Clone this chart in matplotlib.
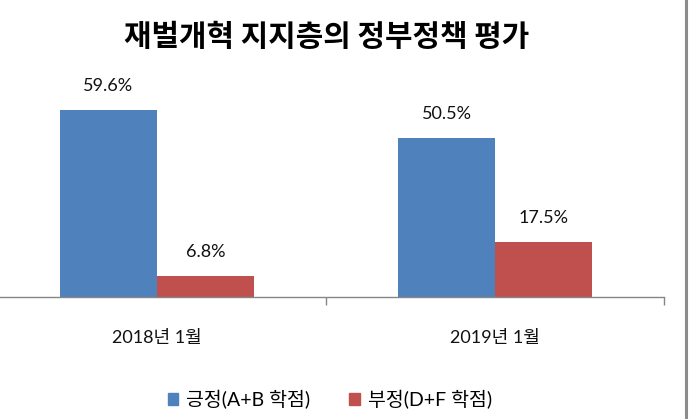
import matplotlib
matplotlib.use("Agg")
import matplotlib.pyplot as plt
from matplotlib.lines import Line2D
from matplotlib.patches import Patch
import numpy as np

title = "재벌개혁 지지층의 정부정책 평가"
categories = ["2018년 1월", "2019년 1월"]
series_names = ["긍정(A+B 학점)", "부정(D+F 학점)"]
positive = [59.6, 50.5]
negative = [6.8, 17.5]
colors = ["#4F81BD", "#C0504D"]

fam = ['Lato', 'Noto Sans CJK KR', 'DejaVu Sans']
plt.rcParams['font.family'] = fam

fig = plt.figure(figsize=(6.97, 4.19), dpi=100)
W, H = 697, 419
ax = fig.add_axes([-12 / W, (H - 297) / H, 676 / W, (297 - 77) / H])

x = np.arange(len(categories))
bw = 0.287
b1 = ax.bar(x - bw / 2, positive, bw, color=colors[0], label=series_names[0])
b2 = ax.bar(x + bw / 2, negative, bw, color=colors[1], label=series_names[1])

for bars, vals in ((b1, positive), (b2, negative)):
    for rect, v in zip(bars, vals):
        ax.annotate(f"{v:.1f}%", (rect.get_x() + rect.get_width() / 2, v),
                    xytext=(0, 11.5), textcoords="offset points",
                    ha="center", va="bottom", fontsize=13, color="#111111")

ax.set_xlim(-0.5, len(categories) - 0.5)
ax.set_ylim(0, 70)
for s in ("left", "right", "top"):
    ax.spines[s].set_visible(False)
ax.spines["bottom"].set_color("#868686")
ax.spines["bottom"].set_linewidth(1.0)
ax.set_yticks([])
ax.set_xticks(x)
ax.set_xticklabels(categories, fontsize=13, color="#111111")
ax.tick_params(axis="x", which="major", length=0, pad=24)
ax.set_xticks([0.5, 1.5], minor=True)
ax.tick_params(axis="x", which="minor", length=6, color="#868686", width=1)

fig.text(0.469, 0.912, title, ha="center", va="center", fontsize=21.5,
         fontweight="heavy", family=['Noto Sans CJK KR'], color="#000000")

handles = [Patch(color=c) for c in colors]
fig.legend(handles, series_names, loc="center", bbox_to_anchor=(0.473, 0.047),
           ncol=2, frameon=False, fontsize=14, handlelength=0.55,
           handleheight=0.55, handletextpad=0.4, columnspacing=2.0)

fig.add_artist(Line2D([686 / W, 686 / W], [0, 1], color="#8C8C8C", lw=2.2,
                      transform=fig.transFigure))

fig.savefig("out.png", dpi=100, facecolor="white")
